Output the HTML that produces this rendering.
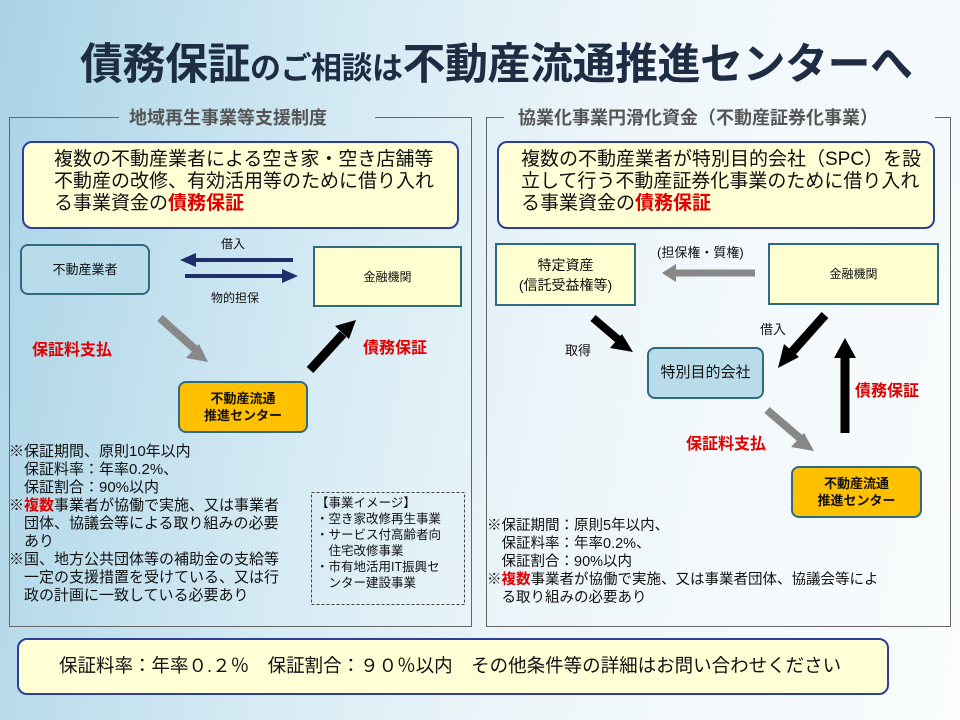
<!DOCTYPE html>
<html><head><meta charset="utf-8"><style>
*{margin:0;padding:0;box-sizing:border-box}
body{width:960px;height:720px;overflow:hidden;position:relative;font-family:"Liberation Sans","Noto Sans CJK JP",sans-serif;background:linear-gradient(100deg,#a9d3e6 0%,#d6ebf4 35%,#eef6fa 60%,#fafcfd 100%);color:#111}
.a{position:absolute;white-space:nowrap}
.frame{position:absolute;border:1px solid #666;border-top:none}
.y{position:absolute;background:#ffffd6;border:2px solid #2e3e9a;border-radius:10px;font-size:19px;line-height:22px;padding:6px 0 0 30px;white-space:nowrap}
.bx{position:absolute;border:2px solid #2e6a80;display:flex;align-items:center;justify-content:center;text-align:center;font-size:13px;line-height:20px}
.yl{background:#ffffd2}
.bl{background:#b9dcea;border-radius:8px}
.or{background:#ffc000;border-radius:8px;font-weight:bold;font-size:13px;line-height:17px}
.red{color:#e00000;font-weight:bold}
.n{position:absolute;font-size:15px;line-height:18px;white-space:nowrap}
</style></head><body>
<div class="a" style="left:80px;top:30px;font-size:43px;font-weight:bold;color:#1f2d44;letter-spacing:-0.5px">債務保証<span style="font-size:31px">のご相談は</span>不動産流通推進センターへ</div>

<!-- frames -->
<div class="frame" style="left:9px;top:117px;width:463px;height:510px"></div>
<div class="a" style="left:9px;top:117px;width:110px;border-top:1px solid #666"></div>
<div class="a" style="left:375px;top:117px;width:97px;border-top:1px solid #666"></div>
<div class="a" style="left:129px;top:104px;font-size:18px;font-weight:bold;color:#555">地域再生事業等支援制度</div>

<div class="frame" style="left:486px;top:117px;width:465px;height:510px"></div>
<div class="a" style="left:486px;top:117px;width:18px;border-top:1px solid #666"></div>
<div class="a" style="left:935px;top:117px;width:16px;border-top:1px solid #666"></div>
<div class="a" style="left:518px;top:104px;font-size:18px;font-weight:bold;color:#555">協業化事業円滑化資金（不動産証券化事業）</div>

<div class="y" style="left:22px;top:141px;width:437px;height:88px">複数の不動産業者による空き家・空き店舗等<br>不動産の改修、有効活用等のために借り入れ<br>る事業資金の<span class="red">債務保証</span></div>
<div class="y" style="left:497px;top:141px;width:438px;height:88px;padding-left:22px">複数の不動産業者が特別目的会社（SPC）を設<br>立して行う不動産証券化事業のために借り入れ<br>る事業資金の<span class="red">債務保証</span></div>

<!-- left diagram -->
<div class="bx bl" style="left:20px;top:244px;width:130px;height:51px">不動産業者</div>
<div class="bx yl" style="left:313px;top:246px;width:149px;height:61px;font-size:12px">金融機関</div>
<div class="a" style="left:221px;top:235px;font-size:12px">借入</div>
<div class="a" style="left:211px;top:289px;font-size:12px">物的担保</div>
<div class="a red" style="left:32px;top:336px;font-size:16px">保証料支払</div>
<div class="a red" style="left:363px;top:334px;font-size:16px">債務保証</div>
<div class="bx or" style="left:178px;top:381px;width:130px;height:52px">不動産流通<br>推進センター</div>

<!-- right diagram -->
<div class="bx yl" style="left:495px;top:243px;width:141px;height:63px;font-size:14px">特定資産<br>(信託受益権等)</div>
<div class="bx yl" style="left:768px;top:243px;width:171px;height:62px;font-size:12px">金融機関</div>
<div class="a" style="left:657px;top:242px;font-size:13px">(担保権・質権)</div>
<div class="a" style="left:565px;top:340px;font-size:13px">取得</div>
<div class="a" style="left:760px;top:319px;font-size:13px">借入</div>
<div class="bx bl" style="left:647px;top:347px;width:117px;height:52px;font-size:15px">特別目的会社</div>
<div class="a red" style="left:855px;top:377px;font-size:16px">債務保証</div>
<div class="a red" style="left:686px;top:430px;font-size:16px">保証料支払</div>
<div class="bx or" style="left:791px;top:466px;width:131px;height:52px">不動産流通<br>推進センター</div>

<svg class="a" style="left:0;top:0" width="960" height="720">
<g fill="#1f2d6a" stroke="none">
<rect x="193" y="258" width="100" height="4"/><path d="M180,260l16,-7v14z"/>
<rect x="185" y="274" width="100" height="4"/><path d="M298,276l-16,-7v14z"/>
</g>
<g>
<path d="M160,318L196,350" stroke="#888" stroke-width="8"/><path d="M208,362l-22,-4l13,-14z" fill="#888"/>
<path d="M310,370L343,334" stroke="#000" stroke-width="9"/><path d="M356,320l-21,6l14,13z" fill="#000"/>
<path d="M755,273H670" stroke="#888" stroke-width="7"/><path d="M662,273l14,-9v18z" fill="#888"/>
<path d="M593,318L620,341" stroke="#000" stroke-width="8"/><path d="M633,352l-23,-4l12,-14z" fill="#000"/>
<path d="M825,315L792,352" stroke="#000" stroke-width="9"/><path d="M778,368l6,-24l15,13z" fill="#000"/>
<path d="M845,433V355" stroke="#000" stroke-width="9"/><path d="M845,338l-11,20h22z" fill="#000"/>
<path d="M767,410L802,440" stroke="#888" stroke-width="8"/><path d="M814,451l-23,-4l13,-14z" fill="#888"/>
</g>
<rect x="311.5" y="492.5" width="153" height="112" fill="none" stroke="#444" stroke-dasharray="3,2"/>
</svg>

<div class="n" style="left:9px;top:443px">※保証期間、原則10年以内<br>　保証料率：年率0.2%、<br>　保証割合：90%以内<br>※<span class="red">複数</span>事業者が協働で実施、又は事業者<br>　団体、協議会等による取り組みの必要<br>　あり<br>※国、地方公共団体等の補助金の支給等<br>　一定の支援措置を受けている、又は行<br>　政の計画に一致している必要あり</div>
<div class="n" style="left:316px;top:495px;font-size:12.5px;line-height:16px">【事業イメージ】<br>・空き家改修再生事業<br>・サービス付高齢者向<br>　住宅改修事業<br>・市有地活用IT振興セ<br>　ンター建設事業</div>
<div class="n" style="left:487px;top:517px;font-size:14.5px">※保証期間：原則5年以内、<br>　保証料率：年率0.2%、<br>　保証割合：90%以内<br>※<span class="red">複数</span>事業者が協働で実施、又は事業者団体、協議会等によ<br>　る取り組みの必要あり</div>

<div class="y" style="left:17px;top:638px;width:872px;height:57px;padding:15px 0 0 40px;font-size:18.5px">保証料率：年率０.２％　保証割合：９０％以内　その他条件等の詳細はお問い合わせください</div>
</body></html>
